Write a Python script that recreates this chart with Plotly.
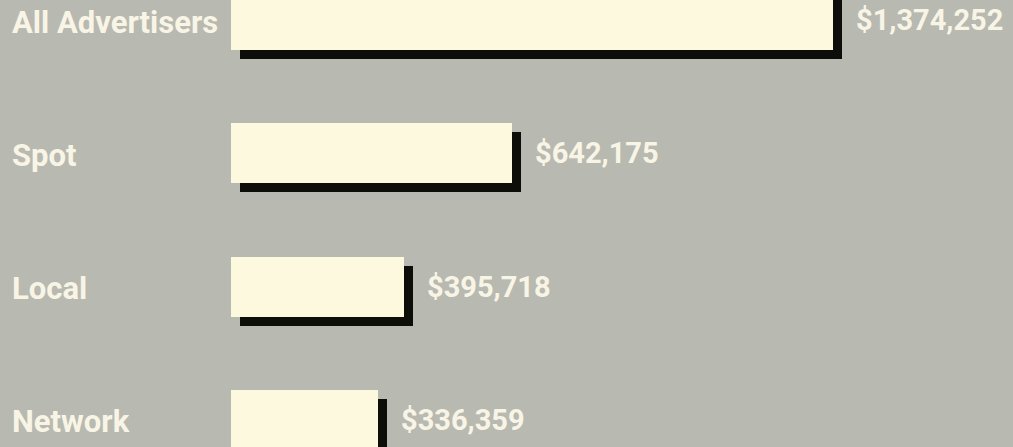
import plotly.graph_objects as go

categories = ["All Advertisers", "Spot", "Local", "Network"]
values = [1374252, 642175, 395718, 336359]
value_labels = ["$1,374,252", "$642,175", "$395,718", "$336,359"]

BG = "#b8b9b0"
BAR = "#fcf9df"
SHADOW = "#0d0d0a"
TEXT = "#f8f5e6"

W, H = 1013, 447
px_per_dollar = 602 / 1374252
x_left = -231 / px_per_dollar
x_right = (W - 231) / px_per_dollar
row_px = 133
y_top = -20 / row_px
y_bot = 3 + (H - 420) / row_px

shadow_dx = 9 / px_per_dollar
shadow_dy = 9 / row_px
bar_w = 60 / row_px

idx = list(range(len(categories)))

fig = go.Figure()
fig.add_trace(go.Bar(
    x=values, y=[i + shadow_dy for i in idx], base=shadow_dx, orientation="h",
    width=bar_w, marker=dict(color=SHADOW, line=dict(width=0)),
    hoverinfo="skip", showlegend=False))
fig.add_trace(go.Bar(
    x=values, y=idx, orientation="h", width=bar_w,
    marker=dict(color=BAR, line=dict(width=0)),
    showlegend=False))

font_main = "Roboto, Liberation Sans, sans-serif"
for i, (c, v, lab) in enumerate(zip(categories, values, value_labels)):
    fig.add_annotation(x=0.01, xref="paper", y=i, yref="y", text=c, showarrow=False,
                       xanchor="left", yanchor="middle", yshift=-2,
                       font=dict(family=font_main, size=31, color=TEXT, weight="bold"))
    fig.add_annotation(x=v + shadow_dx, y=i, text=lab, showarrow=False,
                       xanchor="left", yanchor="middle", xshift=12,
                       font=dict(family=font_main, size=29, color=TEXT, weight="bold"))

fig.update_layout(
    width=W, height=H, margin=dict(l=0, r=0, t=0, b=0),
    paper_bgcolor=BG, plot_bgcolor=BG, barmode="overlay", bargap=0,
    xaxis=dict(range=[x_left, x_right], visible=False, fixedrange=True),
    yaxis=dict(range=[y_bot, y_top], visible=False, fixedrange=True),
)
fig.write_html("out.html", config={"displayModeBar": False},
               post_script="document.body.style.margin='0';document.body.style.background='%s';" % BG)
